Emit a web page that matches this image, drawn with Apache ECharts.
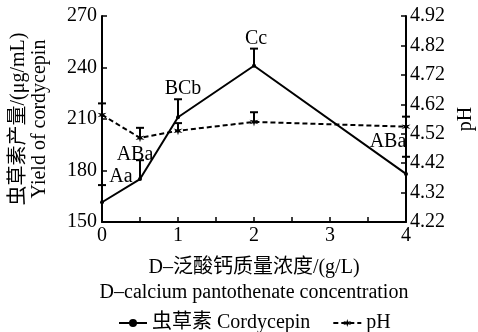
<!DOCTYPE html>
<html>
<head>
<meta charset="utf-8">
<script src="https://cdn.jsdelivr.net/npm/echarts@6/dist/echarts.min.js"></script>
<style>html,body{margin:0;padding:0;background:#fff}#c{width:478px;height:332px}</style>
</head>
<body>
<div id="c"></div>
<script>
const concentrations = [0, 0.5, 1, 2, 4];
const cordycepin = [161.5, 175, 211, 241, 178];
const cordycepinErr = [10, 11, 10.5, 10, 10];
const ph = [4.584, 4.506, 4.53, 4.56, 4.544];
const phErr = [0.039, 0.034, 0.026, 0.033, 0.034];
const sigLabels = ['Aa', 'ABa', 'BCb', 'Cc', 'ABa'];
const labelOffsets = [[19, -9], [-5, -7], [5, -12], [2, -10], [-18, -15]];
const xTicks = [0, 1, 2, 3, 4];

const FONT = '"Liberation Serif", "Times New Roman", "Noto Sans CJK SC", serif';
const FS = 20;
const starPath = 'path://M10 0L11.75 6.97L18.66 5L13.5 10L18.66 15L11.75 13.03L10 20L8.25 13.03L1.34 15L6.5 10L1.34 5L8.25 6.97Z';

function errorBar(yAxisIndex, vals, errs) {
  return {
    type: 'custom',
    yAxisIndex: yAxisIndex,
    silent: true,
    z: 3,
    data: concentrations.map((x, i) => [x, vals[i], vals[i] + errs[i]]),
    renderItem: function (params, api) {
      const lo = api.coord([api.value(0), api.value(1)]);
      const hi = api.coord([api.value(0), api.value(2)]);
      const style = { stroke: '#000', lineWidth: 2 };
      return {
        type: 'group',
        children: [
          { type: 'line', shape: { x1: lo[0], y1: lo[1], x2: hi[0], y2: hi[1] }, style: style },
          { type: 'line', shape: { x1: hi[0] - 4, y1: hi[1], x2: hi[0] + 4, y2: hi[1] }, style: style }
        ]
      };
    }
  };
}

const chart = echarts.init(document.getElementById('c'));
const axisCommon = {
  axisLine: { show: true, lineStyle: { color: '#000', width: 2 } },
  axisTick: { show: true, inside: true, length: 5, lineStyle: { color: '#000', width: 1.5 } },
  splitLine: { show: false },
  axisLabel: { color: '#000', fontFamily: FONT, fontSize: FS }
};
chart.setOption({
  animation: false,
  textStyle: { fontFamily: FONT, color: '#000' },
  grid: { left: 102, right: 72, top: 16, bottom: 110, containLabel: false, outerBoundsMode: 'none' },
  xAxis: Object.assign({}, axisCommon, {
    type: 'value', min: 0, max: 4, interval: 0.5,
    axisLabel: Object.assign({}, axisCommon.axisLabel, {
      margin: 4,
      formatter: v => (xTicks.indexOf(v) >= 0 ? String(v) : '')
    }),
    name: 'D–泛酸钙质量浓度/(g/L)\nD–calcium pantothenate concentration',
    nameLocation: 'middle', nameGap: 33,
    nameTextStyle: { color: '#000', fontFamily: FONT, fontSize: FS, lineHeight: 25 }
  }),
  yAxis: [
    Object.assign({}, axisCommon, {
      type: 'value', min: 150, max: 270, interval: 30,
      axisLabel: Object.assign({}, axisCommon.axisLabel, { margin: 5 }),
      name: '虫草素产量/(μg/mL)\nYield of cordycepin',
      nameLocation: 'middle', nameGap: 52, nameRotate: 90,
      nameTextStyle: { color: '#000', fontFamily: FONT, fontSize: FS, lineHeight: 21 }
    }),
    Object.assign({}, axisCommon, {
      type: 'value', min: 4.22, max: 4.92, interval: 0.1, position: 'right',
      axisLabel: Object.assign({}, axisCommon.axisLabel, { margin: 4, formatter: v => v.toFixed(2) }),
      name: 'pH', nameLocation: 'middle', nameGap: 50, nameRotate: 90,
      nameTextStyle: { color: '#000', fontFamily: FONT, fontSize: FS }
    })
  ],
  legend: {
    top: 313, left: 118, padding: 0, itemGap: 22, itemWidth: 28, itemHeight: 10,
    textStyle: { color: '#000', fontFamily: FONT, fontSize: FS },
    data: ['虫草素 Cordycepin', 'pH']
  },
  series: [
    errorBar(0, cordycepin, cordycepinErr),
    errorBar(1, ph, phErr),
    {
      name: '虫草素 Cordycepin', type: 'line', yAxisIndex: 0, z: 4,
      symbol: 'circle', symbolSize: 4,
      lineStyle: { color: '#000', width: 2 },
      itemStyle: { color: '#000' },
      data: concentrations.map((x, i) => ({
        value: [x, cordycepin[i]],
        label: {
          show: true, position: 'top', offset: labelOffsets[i],
          formatter: sigLabels[i], color: '#000', fontFamily: FONT, fontSize: FS
        }
      }))
    },
    {
      name: 'pH', type: 'line', yAxisIndex: 1, z: 5,
      symbol: starPath, symbolSize: 9,
      lineStyle: { color: '#000', width: 2, type: [5, 3] },
      itemStyle: { color: '#000' },
      data: concentrations.map((x, i) => [x, ph[i]])
    }
  ]
});
</script>
</body>
</html>
